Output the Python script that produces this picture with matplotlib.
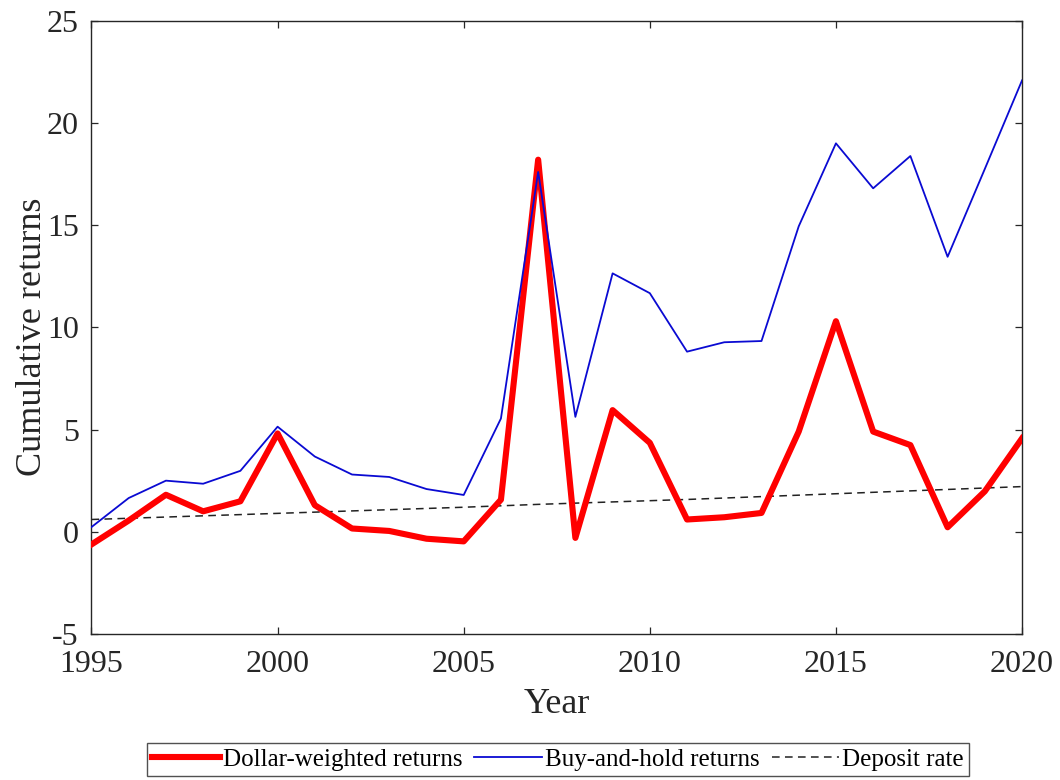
import matplotlib
matplotlib.use("Agg")
import matplotlib.pyplot as plt

# ── Data ──
years = list(range(1995, 2021))
dollar_weighted = [-0.62, 0.55, 1.81, 1.0, 1.49, 4.81, 1.30, 0.16, 0.04, -0.34,
                   -0.47, 1.57, 18.2, -0.3, 5.95, 4.35, 0.6, 0.71, 0.92, 4.9,
                   10.3, 4.9, 4.24, 0.22, 1.98, 4.57]
buy_and_hold = [0.23, 1.65, 2.5, 2.35, 2.98, 5.14, 3.68, 2.8, 2.68, 2.09,
                1.8, 5.54, 17.6, 5.62, 12.64, 11.67, 8.81, 9.27, 9.33, 14.94,
                19.0, 16.8, 18.38, 13.45, 17.75, 22.08]
deposit_rate = [0.60, 0.66, 0.72, 0.78, 0.84, 0.90, 0.96, 1.02, 1.08, 1.14,
                1.20, 1.27, 1.34, 1.40, 1.46, 1.52, 1.58, 1.65, 1.72, 1.79,
                1.86, 1.93, 2.00, 2.07, 2.14, 2.21]
x_ticks = [1995, 2000, 2005, 2010, 2015, 2020]
y_ticks = [-5, 0, 5, 10, 15, 20, 25]

plt.rcParams["font.family"] = ["Liberation Serif", "DejaVu Serif"]
plt.rcParams["axes.unicode_minus"] = False

fig = plt.figure(figsize=(10.6, 7.8), dpi=100)
fig.patch.set_facecolor("white")
ax = fig.add_axes([0.0863, 0.1872, 0.8779, 0.7863])

ax.plot(years, dollar_weighted, color="#ff0000", linewidth=4.4,
        label="Dollar-weighted returns", zorder=3)
ax.plot(years, buy_and_hold, color="#0a0ad2", linewidth=1.3,
        label="Buy-and-hold returns", zorder=4)
ax.plot(years, deposit_rate, color="#222222", linewidth=1.1,
        linestyle=(0, (5, 3.5)), label="Deposit rate", zorder=2)

ax.set_xlim(1995, 2020)
ax.set_ylim(-5, 25)
ax.set_xticks(x_ticks)
ax.set_yticks(y_ticks)

# MATLAB-like box with inward ticks on all sides
for s in ax.spines.values():
    s.set_color("#262626")
    s.set_linewidth(1.0)
ax.tick_params(axis="both", direction="in", length=5, width=0.9,
               colors="#262626", labelcolor="#262626", labelsize=23,
               top=True, right=True)
ax.tick_params(axis="y", pad=9)
ax.tick_params(axis="x", pad=11.5)

ax.set_xlabel("Year", fontsize=26, color="#262626")
ax.set_ylabel("Cumulative returns", fontsize=26, color="#262626")
ax.xaxis.label.set_va("baseline")
ax.yaxis.label.set_va("baseline")
ax.xaxis.set_label_coords(0.5, -0.1286)
ax.yaxis.set_label_coords(-0.054, 0.485)

leg = fig.legend(loc="center", bbox_to_anchor=(0.5265, 0.0263), ncol=3,
                 fontsize=18, frameon=True, fancybox=False,
                 handlelength=2.7, handletextpad=0.12, columnspacing=0.48,
                 borderpad=0.22, borderaxespad=0)
leg.get_frame().set_edgecolor("#262626")
leg.get_frame().set_linewidth(1.0)

fig.savefig("out.png", dpi=100, facecolor="white")
